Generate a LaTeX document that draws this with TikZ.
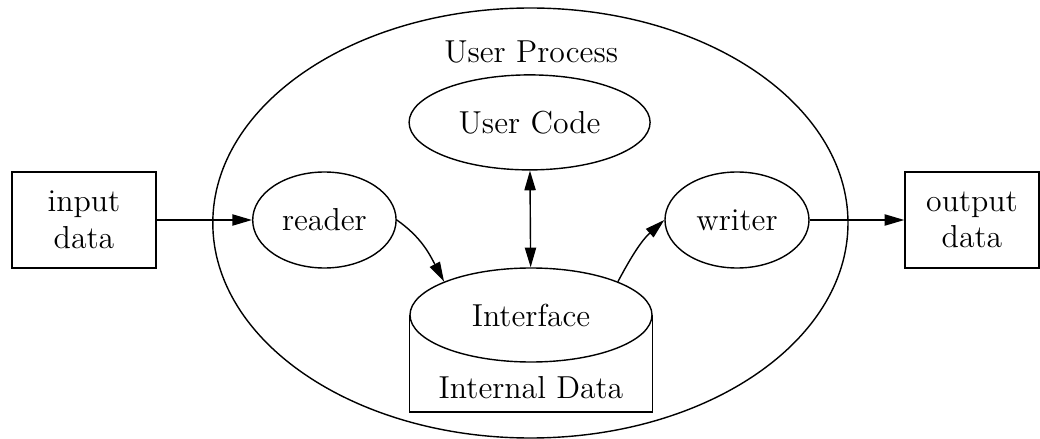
\documentclass[tikz,border=0pt]{standalone}
\usepackage{fontspec}
\setmainfont{lmroman12-regular.otf}
\usepackage{tikz}
\usetikzlibrary{
  shapes.geometric,      % ellipse nodes
  arrows.meta            % filled arrow tips
}

\begin{document}
\begin{tikzpicture}[
    font=\fontsize{22.6}{26}\selectfont,
    line width=1pt,
    proc/.style={draw, ellipse, inner sep=0pt},
    databox/.style={draw, rectangle, inner sep=0pt, minimum width=3.6cm, minimum height=2.4cm, align=center},
    arw/.style={-{Triangle[length=14pt, width=8pt]}},
    darw/.style={{Triangle[length=14pt, width=8pt]}-{Triangle[length=14pt, width=8pt]}}
  ]
    \useasboundingbox (0, 0) rectangle (26, -10.975);

            % User process
            \draw (13.26, -5.575) ellipse [x radius=7.94, y radius=5.375];
            \node (title) at (13.28, -1.3) {User Process};

            % Inner processes
            \node[proc, minimum width=6.025cm, minimum height=2.375cm] (code) at (13.24, -3.06) {User Code};
            \node[proc, minimum width=3.585cm, minimum height=2.4cm] (reader) at (8.11, -5.5) {reader};
            \node[proc, minimum width=3.6cm, minimum height=2.4cm] (writer) at (18.425, -5.5) {writer};

            % Interface with internal data store
            \node[proc, minimum width=6.05cm, minimum height=2.35cm] (iface) at (13.275, -7.875) {Interface};
            \draw (iface.west) -- (iface.west |- 0, -10.3) -- (iface.east |- 0, -10.3) -- (iface.east);
            \node (store) at (13.275, -9.7) {Internal Data};

            % Input and output
            \node[databox] (input) at (2.1, -5.5) {input\\data};
            \node[databox, minimum width=3.35cm] (output) at (24.3, -5.5) {output\\data};

            % Data flow
            \draw[arw] (input) -- (reader);
            \draw[arw] (reader.east) to[out=-35, in=118] (iface.159);
            \draw[darw] (code) -- (iface);
            \draw[arw] (iface.21) to[out=62, in=222] (writer.west);
            \draw[arw] (writer) -- (output);
        \end{tikzpicture}
\end{document}
